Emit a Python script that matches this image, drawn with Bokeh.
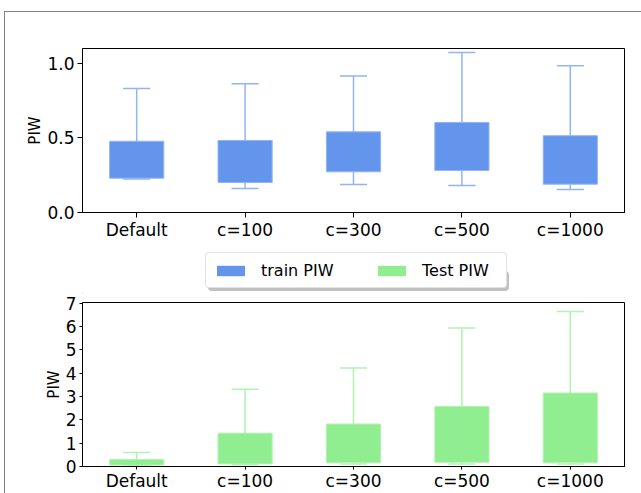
from bokeh.plotting import figure
from bokeh.models import Range1d, FixedTicker, Legend, LegendItem
from bokeh.layouts import column
from bokeh.embed import file_html
from bokeh.resources import INLINE

categories = ["Default", "c=100", "c=300", "c=500", "c=1000"]

train_whislo = [0.225, 0.161, 0.188, 0.181, 0.154]
train_q1 = [0.230, 0.201, 0.273, 0.282, 0.190]
train_q3 = [0.478, 0.483, 0.541, 0.604, 0.515]
train_whishi = [0.832, 0.864, 0.915, 1.074, 0.985]

test_whislo = [0.05, 0.07, 0.11, 0.11, 0.11]
test_q1 = [0.06, 0.11, 0.16, 0.18, 0.16]
test_q3 = [0.30, 1.43, 1.82, 2.57, 3.15]
test_whishi = [0.60, 3.31, 4.22, 5.94, 6.64]

top_ticks = [0.0, 0.5, 1.0]
top_tick_labels = ["0.0", "0.5", "1.0"]
bottom_ticks = [0, 1, 2, 3, 4, 5, 6, 7]
legend_labels = ["train PIW", "Test PIW"]

FONT = "DejaVu Sans"
TRAIN_FILL = "#6495ED"
TRAIN_LINE = "#92B5F2"
TEST_FILL = "#90EE90"
TEST_LINE = "#B1F3B1"

xs = list(range(1, len(categories) + 1))


def make_fig(height, top_border, bottom_border, ymax, tick_out, x_standoff):
    p = figure(width=636, height=height, output_backend="svg", toolbar_location=None,
               x_range=Range1d(0.5, 5.5), y_range=Range1d(0, ymax),
               min_border_left=77, min_border_right=17,
               min_border_top=top_border, min_border_bottom=bottom_border)
    p.xgrid.grid_line_color = None
    p.ygrid.grid_line_color = None
    p.outline_line_color = "black"
    p.outline_line_width = 1
    p.outline_line_alpha = 1
    for ax in (p.xaxis[0], p.yaxis[0]):
        ax.axis_line_color = "black"
        ax.major_tick_out = tick_out
        ax.major_tick_in = 0
        ax.major_tick_line_color = "black"
        ax.minor_tick_line_color = None
        ax.major_label_text_font = FONT
        ax.major_label_text_font_size = "17px"
        ax.major_label_text_color = "black"
    p.xaxis.ticker = FixedTicker(ticks=xs)
    p.xaxis.major_label_overrides = {x: c for x, c in zip(xs, categories)}
    p.xaxis.major_label_standoff = x_standoff
    p.yaxis.major_label_standoff = 3
    p.yaxis.axis_label = "PIW"
    p.yaxis.axis_label_text_font = FONT
    p.yaxis.axis_label_text_font_size = "15px"
    p.yaxis.axis_label_text_font_style = "normal"
    p.yaxis.axis_label_text_color = "black"
    p.yaxis.axis_label_standoff = 0
    return p


def draw_boxes(p, lo, q1, q3, hi, fill, line):
    half = 0.125
    p.segment(x0=xs, y0=q3, x1=xs, y1=hi, line_color=line, line_width=1.5)
    p.segment(x0=xs, y0=lo, x1=xs, y1=q1, line_color=line, line_width=1.5)
    p.segment(x0=[x - half for x in xs], y0=hi, x1=[x + half for x in xs], y1=hi,
              line_color=line, line_width=1.5)
    p.segment(x0=[x - half for x in xs], y0=lo, x1=[x + half for x in xs], y1=lo,
              line_color=line, line_width=1.5)
    r = p.vbar(x=xs, width=0.5, bottom=q1, top=q3, fill_color=fill,
               line_color=line, line_width=1)
    return r


p1 = make_fig(230, 36, 30, 1.1, 5, 2)
p1.yaxis.ticker = FixedTicker(ticks=top_ticks)
p1.yaxis.major_label_overrides = {t: l for t, l in zip(top_ticks, top_tick_labels)}
draw_boxes(p1, train_whislo, train_q1, train_q3, train_whishi, TRAIN_FILL, TRAIN_LINE)

# legend-only strip between the two panels (its boxes lie outside its ranges)
pl = figure(width=636, height=52, output_backend="svg", toolbar_location=None,
            x_range=Range1d(100, 101), y_range=Range1d(100, 101),
            min_border_left=77, min_border_right=17, min_border_top=10, min_border_bottom=2)
pl.axis.visible = False
pl.grid.grid_line_color = None
pl.outline_line_color = None
lg_train = pl.vbar(x=xs, width=0.5, bottom=train_q1, top=train_q3,
                   fill_color=TRAIN_FILL, line_color=TRAIN_FILL, line_alpha=0)
lg_test = pl.vbar(x=xs, width=0.5, bottom=test_q1, top=test_q3,
                  fill_color=TEST_FILL, line_color=TEST_FILL, line_alpha=0)
lg_blank = pl.vbar(x=xs, width=0.5, bottom=test_q1, top=test_q3,
                   fill_alpha=0, line_alpha=0)

legend_style = dict(orientation="horizontal",
                    label_text_font=FONT, label_text_font_size="16px",
                    glyph_width=35, glyph_height=13, label_standoff=13,
                    label_width=77, padding=7, margin=0, label_height=20)

shadow = Legend(items=[LegendItem(label=" ", renderers=[lg_blank], index=0) for _ in legend_labels],
                location=(126, 1), label_text_alpha=0, spacing=51,
                border_line_color=None, background_fill_color="#4d4d4d",
                background_fill_alpha=0.35, **legend_style)
legend = Legend(items=[LegendItem(label=legend_labels[0], renderers=[lg_train], index=0),
                       LegendItem(label=legend_labels[1], renderers=[lg_test], index=0)],
                location=(123, 4), label_text_color="black", spacing=36,
                border_line_color="#c8c8c8", border_line_width=1,
                background_fill_color="white", background_fill_alpha=1, **legend_style)
if "border_radius" in Legend.properties():
    legend.border_radius = 4
    shadow.border_radius = 4
pl.add_layout(shadow, "center")
pl.add_layout(legend, "center")

p2 = make_fig(199, 8, 26, 7.03, 3, 1)
p2.yaxis.ticker = FixedTicker(ticks=bottom_ticks)
draw_boxes(p2, test_whislo, test_q1, test_q3, test_whishi, TEST_FILL, TEST_LINE)

layout = column(p1, pl, p2, spacing=0,
                styles={"border-top": "1px solid #808080", "border-left": "1px solid #808080",
                        "position": "relative", "left": "4px", "top": "11px"})

open("out.html", "w").write(file_html(layout, INLINE))
